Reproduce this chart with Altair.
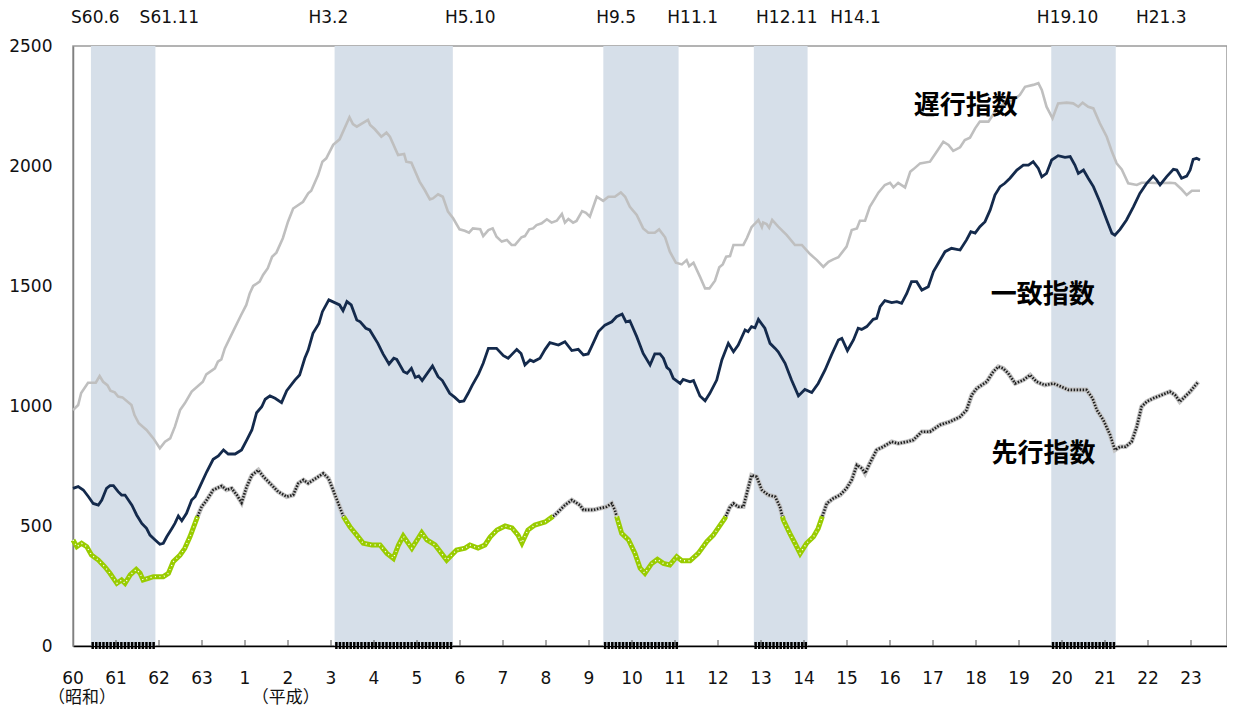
import altair as alt
import pandas as pd

# x positions are years elapsed since January 1985 (昭和60年1月); values are index levels
lagging = [(0.00,983),(0.12,1004),(0.19,1054),(0.35,1097),(0.53,1097),(0.62,1125),(0.70,1101),(0.80,1087),(0.87,1064),(0.97,1057),
 (1.05,1039),(1.15,1036),(1.36,1004),(1.43,962),(1.53,928),(1.71,900),(1.87,865),(2.02,824),(2.14,851),(2.26,865),(2.37,914),(2.49,983),
 (2.60,1011),(2.76,1060),(3.02,1101),(3.10,1132),(3.30,1157),(3.37,1185),(3.45,1194),(3.53,1240),(3.72,1310),(3.91,1379),(4.03,1421),
 (4.11,1469),(4.19,1500),(4.34,1518),(4.42,1546),(4.53,1574),(4.63,1622),(4.73,1639),(4.88,1699),(5.00,1768),(5.12,1823),(5.35,1851),
 (5.47,1886),(5.54,1897),(5.70,1962),(5.80,2018),(5.89,2032),(6.05,2088),(6.20,2111),(6.43,2203),(6.51,2175),(6.60,2164),(6.86,2192),
 (6.91,2171),(7.02,2153),(7.17,2122),(7.29,2139),(7.37,2122),(7.56,2046),(7.70,2050),(7.75,2018),(7.87,2014),(8.06,1935),(8.18,1900),
 (8.30,1861),(8.37,1865),(8.49,1882),(8.60,1872),(8.72,1810),(8.84,1782),(8.99,1736),(9.11,1730),(9.21,1722),(9.30,1740),(9.47,1737),
 (9.54,1708),(9.66,1733),(9.76,1740),(9.85,1705),(9.97,1685),(10.09,1692),(10.20,1671),(10.28,1671),(10.43,1703),(10.51,1708),(10.61,1736),
 (10.70,1740),(10.78,1754),(10.90,1761),(11.02,1778),(11.13,1764),(11.25,1772),(11.37,1800),(11.44,1764),(11.52,1779),(11.63,1764),
 (11.71,1771),(11.84,1812),(11.93,1805),(12.02,1789),(12.18,1872),(12.33,1855),(12.45,1872),(12.60,1872),(12.74,1890),(12.84,1872),
 (12.95,1830),(13.11,1796),(13.26,1740),(13.38,1722),(13.53,1722),(13.63,1736),(13.77,1703),(13.88,1643),(14.02,1597),(14.16,1590),
 (14.27,1608),(14.33,1583),(14.43,1597),(14.58,1539),(14.70,1490),(14.80,1490),(14.93,1522),(15.03,1578),(15.11,1590),(15.19,1622),
 (15.28,1625),(15.36,1671),(15.59,1671),(15.67,1699),(15.78,1745),(15.94,1775),(16.02,1745),(16.05,1764),(16.13,1758),(16.19,1743),
 (16.26,1775),(16.40,1747),(16.60,1712),(16.79,1671),(16.95,1671),(17.14,1633),(17.30,1608),(17.45,1580),(17.57,1601),(17.68,1611),
 (17.80,1620),(17.99,1664),(18.11,1733),(18.23,1740),(18.30,1772),(18.42,1772),(18.53,1830),(18.65,1865),(18.73,1889),(18.88,1921),
 (19.00,1930),(19.08,1911),(19.19,1930),(19.35,1911),(19.47,1976),(19.54,1986),(19.70,2011),(19.93,2018),(20.09,2060),(20.24,2101),
 (20.36,2088),(20.47,2063),(20.63,2078),(20.74,2108),(20.86,2118),(20.98,2157),(21.09,2185),(21.29,2185),(21.44,2226),(21.56,2247),
 (21.71,2268),(21.87,2275),(22.02,2296),(22.14,2330),(22.33,2338),(22.45,2345),(22.53,2317),(22.64,2247),(22.78,2199),(22.91,2261),
 (23.11,2264),(23.26,2261),(23.38,2247),(23.48,2264),(23.61,2247),(23.73,2240),(23.88,2178),(24.04,2122),(24.16,2060),(24.27,2011),
 (24.39,1986),(24.54,1928),(24.74,1921),(24.85,1930),(25.05,1930),(25.28,1928),(25.51,1930),(25.63,1928),(25.78,1903),(25.90,1879),
 (26.02,1897),(26.21,1897)]

coincident = [(0.00,657),(0.12,664),(0.24,650),(0.36,622),(0.47,594),(0.59,587),(0.67,608),(0.78,657),(0.86,668),(0.94,668),
 (1.05,643),(1.13,629),(1.21,629),(1.37,587),(1.48,546),(1.60,511),(1.71,490),(1.79,462),(1.91,442),(2.02,424),(2.10,428),(2.18,455),
 (2.30,490),(2.37,511),(2.45,542),(2.53,522),(2.64,553),(2.76,608),(2.84,622),(2.95,664),(3.11,726),(3.26,778),(3.38,792),(3.50,817),
 (3.61,800),(3.77,800),(3.92,817),(4.04,858),(4.16,900),(4.27,972),(4.39,997),(4.47,1028),(4.58,1042),(4.70,1032),(4.85,1014),
 (4.97,1064),(5.16,1108),(5.27,1129),(5.39,1199),(5.47,1233),(5.58,1303),(5.72,1344),(5.80,1393),(5.95,1442),(6.20,1421),(6.28,1397),
 (6.37,1435),(6.47,1421),(6.60,1358),(6.68,1351),(6.81,1324),(6.90,1317),(7.09,1261),(7.21,1217),(7.35,1175),(7.46,1199),(7.53,1194),
 (7.69,1143),(7.77,1136),(7.87,1157),(7.96,1119),(8.04,1125),(8.12,1106),(8.36,1167),(8.49,1122),(8.59,1106),(8.76,1053),(8.88,1036),
 (8.99,1018),(9.09,1021),(9.19,1053),(9.28,1085),(9.43,1133),(9.54,1178),(9.66,1240),(9.85,1240),(10.01,1210),(10.12,1199),(10.32,1236),
 (10.42,1219),(10.51,1171),(10.63,1192),(10.71,1185),(10.86,1199),(10.98,1236),(11.09,1264),(11.29,1254),(11.44,1268),(11.60,1231),
 (11.75,1236),(11.87,1213),(11.98,1217),(12.06,1247),(12.22,1310),(12.37,1337),(12.53,1351),(12.64,1372),(12.77,1383),(12.86,1351),
 (12.95,1355),(13.11,1289),(13.26,1219),(13.42,1171),(13.53,1217),(13.65,1217),(13.73,1199),(13.81,1161),(13.88,1150),(13.96,1115),
 (14.12,1094),(14.19,1111),(14.35,1101),(14.43,1106),(14.58,1042),(14.70,1022),(14.81,1053),(14.97,1108),(15.09,1192),(15.24,1261),
 (15.36,1226),(15.47,1254),(15.63,1317),(15.70,1310),(15.78,1331),(15.86,1326),(15.94,1361),(16.09,1324),(16.21,1261),(16.33,1240),
 (16.40,1226),(16.56,1178),(16.71,1108),(16.87,1042),(17.02,1069),(17.18,1056),(17.33,1094),(17.49,1150),(17.64,1213),(17.80,1275),
 (17.88,1282),(18.01,1231),(18.15,1275),(18.26,1324),(18.34,1319),(18.46,1331),(18.61,1361),(18.69,1365),(18.77,1414),(18.88,1439),
 (19.04,1431),(19.16,1435),(19.27,1428),(19.39,1469),(19.50,1518),(19.62,1518),(19.74,1483),(19.89,1497),(20.01,1560),(20.12,1594),
 (20.28,1643),(20.43,1657),(20.63,1650),(20.78,1692),(20.88,1726),(20.98,1720),(21.09,1747),(21.21,1768),(21.33,1817),(21.44,1879),
 (21.56,1914),(21.67,1928),(21.79,1949),(21.95,1983),(22.10,2004),(22.22,2004),(22.33,2018),(22.45,1990),(22.53,1955),(22.64,1969),
 (22.76,2025),(22.91,2043),(23.07,2036),(23.19,2039),(23.30,2004),(23.38,1969),(23.50,1983),(23.61,1949),(23.73,1914),(23.88,1851),
 (24.04,1775),(24.16,1720),(24.23,1712),(24.35,1736),(24.50,1775),(24.66,1830),(24.81,1886),(24.97,1928),(25.12,1958),(25.20,1942),
 (25.28,1921),(25.43,1955),(25.59,1986),(25.67,1983),(25.78,1949),(25.90,1958),(25.98,1983),(26.05,2028),(26.13,2032),(26.21,2025)]

leading = [(0.00,442),(0.09,414),(0.20,428),(0.32,414),(0.43,379),(0.59,358),(0.74,330),(0.86,303),(1.02,261),(1.13,275),(1.21,261),
 (1.33,296),(1.47,319),(1.56,303),(1.63,275),(1.75,282),(1.87,289),(2.10,289),(2.22,303),(2.33,351),(2.49,379),(2.60,407),(2.72,455),
 (2.88,532),(2.99,580),(3.11,608),(3.26,650),(3.46,667),(3.57,650),(3.69,657),(3.81,629),(3.92,597),(4.04,664),(4.16,712),(4.31,733),
 (4.43,705),(4.58,678),(4.77,643),(4.97,622),(5.12,629),(5.24,678),(5.36,692),(5.47,678),(5.59,692),(5.70,705),(5.82,719),(5.94,699),
 (6.05,650),(6.17,594),(6.29,539),(6.44,497),(6.60,462),(6.75,428),(6.95,421),(7.14,421),(7.30,386),(7.45,365),(7.57,421),(7.68,458),
 (7.88,407),(8.11,472),(8.23,442),(8.42,421),(8.69,358),(8.92,400),(9.12,408),(9.23,421),(9.42,408),(9.58,421),(9.70,454),(9.86,483),
 (10.05,500),(10.21,492),(10.35,462),(10.44,429),(10.58,483),(10.74,504),(10.98,517),(11.21,546),(11.44,587),(11.60,608),(11.79,587),
 (11.87,567),(12.10,567),(12.26,574),(12.41,580),(12.53,594),(12.60,567),(12.68,518),(12.76,469),(12.92,442),(13.07,386),(13.19,324),
 (13.30,303),(13.46,344),(13.59,361),(13.73,344),(13.88,338),(14.04,372),(14.16,355),(14.35,355),(14.54,386),(14.74,435),(14.89,462),
 (15.05,504),(15.16,532),(15.28,580),(15.36,594),(15.47,580),(15.59,580),(15.70,657),(15.78,712),(15.90,705),(16.02,650),(16.17,629),
 (16.33,622),(16.44,580),(16.52,525),(16.67,469),(16.79,428),(16.91,386),(17.06,428),(17.22,455),(17.33,490),(17.41,532),(17.53,594),
 (17.68,615),(17.84,629),(17.99,657),(18.11,692),(18.23,754),(18.35,740),(18.42,719),(18.53,761),(18.69,817),(18.84,830),(19.04,851),
 (19.19,844),(19.39,851),(19.54,858),(19.74,893),(19.93,893),(20.16,921),(20.40,935),(20.63,955),(20.78,983),(20.90,1046),(21.02,1074),
 (21.25,1101),(21.40,1143),(21.52,1164),(21.63,1157),(21.75,1136),(21.91,1094),(22.10,1108),(22.26,1129),(22.41,1101),(22.60,1087),
 (22.80,1094),(22.99,1080),(23.15,1067),(23.34,1067),(23.57,1067),(23.71,1032),(23.81,983),(23.96,942),(24.12,879),(24.23,817),
 (24.35,830),(24.48,830),(24.62,851),(24.74,914),(24.85,997),(24.97,1018),(25.12,1032),(25.32,1046),(25.51,1060),(25.63,1046),
 (25.74,1018),(25.86,1039),(25.98,1060),(26.17,1101)]

# business-cycle peaks and troughs (shaded = contraction)
rec_peak = ["1985-06", "1991-02", "1997-05", "2000-11", "2007-10"]
rec_trough = ["1986-11", "1993-10", "1999-01", "2002-01", "2009-03"]
cycle_labels = ["S60.6", "S61.11", "H3.2", "H5.10", "H9.5", "H11.1", "H12.11", "H14.1", "H19.10", "H21.3"]
cycle_label_x = [1985.52, 1987.24, 1990.94, 1994.24, 1997.63, 1999.41, 2001.60, 2003.20, 2008.13, 2010.31]

year_ticks = list(range(1985, 2012))
era_labels = ["（昭和）", "（平成）"]
era_label_x = [1985.21, 1989.95]
series_names = ["遅行指数", "一致指数", "先行指数"]
series_label_x = [2005.76, 2007.55, 2007.57]
series_label_y = [2248, 1462, 798]
GREEN_BELOW = 540

BASE = 1985
PLOT_W = 1154           # keeps the page from being shrunk to fit
X_END = 1985 + PLOT_W / 43.0


def ym(s):
    y, m = s.split("-")
    return int(y) + (int(m) - 1) / 12


def era_year(y):
    return str(y - 1925) if y < 1989 else str(y - 1988)


lag_df = pd.DataFrame([(BASE + t, v) for t, v in lagging], columns=["t", "v"])
coi_df = pd.DataFrame([(BASE + t, v) for t, v in coincident], columns=["t", "v"])

rows = []
seg = 0
prev = None
for t, v in leading:
    t = BASE + t
    cls = "g" if v < GREEN_BELOW else "k"
    if prev is not None and cls != prev[2]:
        pt, pv, pc = prev
        f = (GREEN_BELOW - pv) / (v - pv)
        tc = pt + f * (t - pt)
        rows.append((tc, GREEN_BELOW, seg, pc))
        seg += 1
        rows.append((tc, GREEN_BELOW, seg, cls))
    rows.append((t, v, seg, cls))
    prev = (t, v, cls)
lead_df = pd.DataFrame(rows, columns=["t", "v", "seg", "cls"])

rec_df = pd.DataFrame({"start": [ym(p) for p in rec_peak],
                       "end": [ym(q) + 1 / 12 for q in rec_trough]})
mt = []
for p, q in zip(rec_peak, rec_trough):
    a, b = ym(p), ym(q)
    n = int(round((b - a) * 12)) + 1
    for k in range(n):
        mt.append(a + (k + 0.5) / 12)
mtick_df = pd.DataFrame({"t": mt})
yt_df = pd.DataFrame({"t": year_ticks[1:]})
ylab_df = pd.DataFrame({"t": year_ticks, "label": [era_year(y) for y in year_ticks]})
cyc_df = pd.DataFrame({"x": cycle_label_x, "label": cycle_labels})
era_df = pd.DataFrame({"x": era_label_x, "label": era_labels})
ser_df = pd.DataFrame({"x": series_label_x, "y": series_label_y, "label": series_names})

xs = alt.Scale(domain=[1985, X_END], nice=False, zero=False)
ys = alt.Scale(domain=[0, 2500], nice=False)
FONT = "DejaVu Sans"
JP = "Noto Sans CJK JP"

xaxis = alt.Axis(values=year_ticks, labels=False, ticks=False, grid=False,
                 domainColor="#000", domainWidth=1.5, title=None)
yaxis = alt.Axis(values=[0, 500, 1000, 1500, 2000, 2500], format="d", ticks=False, grid=False,
                 labelFont=FONT, labelFontSize=17, labelColor="#111", labelPadding=21,
                 domainColor="#808080", domainWidth=1.5, title=None)


def X(f):
    return alt.X(f, scale=xs, axis=xaxis)


def Y(f):
    return alt.Y(f, scale=ys, axis=yaxis)


shade = alt.Chart(rec_df).mark_rect(color="#d6dfe9").encode(
    x=X("start:Q"), x2="end:Q", y=alt.value(0), y2=alt.value(600))

lag = alt.Chart(lag_df).mark_line(color="#bfbfbf", strokeWidth=2.6).encode(
    x=X("t:Q"), y=Y("v:Q"), order="t:Q")
coi = alt.Chart(coi_df).mark_line(color="#142a4c", strokeWidth=2.8).encode(
    x=X("t:Q"), y=Y("v:Q"), order="t:Q")

lead_enc = dict(x=X("t:Q"), y=Y("v:Q"), detail="seg:N", order="t:Q")
lead_k_base = alt.Chart(lead_df).transform_filter("datum.cls == 'k'").mark_line(
    color="#c4c4c4", strokeWidth=4.6).encode(**lead_enc)
lead_k_dots = alt.Chart(lead_df).transform_filter("datum.cls == 'k'").mark_line(
    color="#1e1e1e", strokeWidth=2.6, strokeDash=[1.5, 1.5]).encode(**lead_enc)
lead_g_base = alt.Chart(lead_df).transform_filter("datum.cls == 'g'").mark_line(
    color="#99cc00", strokeWidth=5).encode(**lead_enc)
lead_g_dots = alt.Chart(lead_df).transform_filter("datum.cls == 'g'").mark_line(
    color="#ffffff", strokeWidth=1.4, strokeDash=[1, 3.5]).encode(**lead_enc)

yticks = alt.Chart(yt_df).mark_rule(color="#555", strokeWidth=1).encode(
    x=X("t:Q"), y=alt.value(600), y2=alt.value(594))
mticks = alt.Chart(mtick_df).mark_rule(color="#000", strokeWidth=2.5).encode(
    x=X("t:Q"), y=alt.value(596), y2=alt.value(603))

year_text = alt.Chart(ylab_df).mark_text(font=FONT, fontSize=17, color="#111", baseline="middle").encode(
    x=X("t:Q"), y=alt.value(633), text="label:N")
cyc_text = alt.Chart(cyc_df).mark_text(font=FONT, fontSize=17, color="#111", baseline="middle").encode(
    x=X("x:Q"), y=alt.value(-28), text="label:N")
era_text = alt.Chart(era_df).mark_text(font=JP, fontSize=17, color="#111", baseline="middle").encode(
    x=X("x:Q"), y=alt.value(652), text="label:N")
ser_text = alt.Chart(ser_df).mark_text(font=JP, fontSize=26, fontWeight="bold", color="#000",
                                       baseline="middle").encode(
    x=X("x:Q"), y=Y("y:Q"), text="label:N")

chart = alt.layer(shade, lag, coi, lead_k_base, lead_k_dots, lead_g_base, lead_g_dots,
                  yticks, mticks, year_text, cyc_text, era_text, ser_text).properties(
    width=PLOT_W, height=600,
    autosize=alt.AutoSizeParams(type="none"),
    padding={"left": 65, "top": 38, "right": 0, "bottom": 61},
    background="#ffffff",
).configure_view(stroke="#9a9a9a", strokeWidth=1.5)

chart.save("out.html", embed_options={"renderer": "svg", "actions": False})
